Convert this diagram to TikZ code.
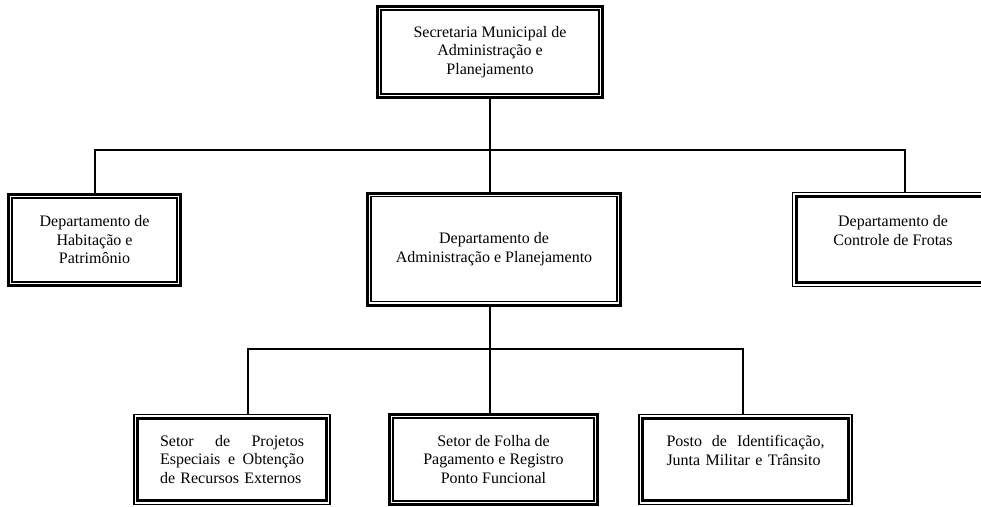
\documentclass[tikz,border=0pt]{standalone}
\usepackage{fontspec}
\setmainfont{Liberation Serif}
\begin{document}
\begin{tikzpicture}[x=1pt,y=-1pt,
    every node/.style={font=\fontsize{16}{18.5}\selectfont},
    caixa/.style={draw, inner sep=0pt, align=center},
    grossa/.style={caixa, line width=3pt},
    fina/.style={caixa, line width=1.3pt},
    ligacao/.style={line width=1.4pt}]
    \useasboundingbox (0,0) rectangle (981,506);
    \node[grossa, minimum width=225, minimum height=91] (sec) at (490,52) {Secretaria Municipal de\\Administração e\\Planejamento};
    \node[grossa, minimum width=172, minimum height=91] (habit) at (94.5,240) {Departamento de\\Habitação e\\Patrimônio};
    \node[grossa, minimum width=253, minimum height=112] (adm) at (494,249) {Departamento de\\Administração e Planejamento};
    \node[fina, minimum width=201, minimum height=94] (frotas) at (893,239.5) {Departamento de\\Controle de Frotas\\\mbox{}};
    \node[fina, minimum width=196, minimum height=90, text width=144, align=left] (projetos) at (232,459.5) {\hyphenpenalty=10000 Setor \hfill de \hfill Projetos\\Especiais \hfill e \hfill Obtenção\\de Recursos Externos};
    \node[grossa, minimum width=208, minimum height=90] (folha) at (493.5,459.5) {Setor de Folha de\\Pagamento e Registro\\Ponto Funcional};
    \node[fina, minimum width=213, minimum height=90, text width=158, align=left] (posto) at (745.5,459.5) {Posto \hfill de \hfill Identificação,\\Junta Militar e Trânsito\\\mbox{}};
    % traço interno das molduras
    \foreach \n in {sec,habit,adm,folha}
        \draw[line width=1.2pt] ([shift={(5,5)}]\n.north west) rectangle ([shift={(-5,-5)}]\n.south east);
    \foreach \n in {frotas,projetos,posto}
        \draw[line width=3pt] ([shift={(4.5,4.5)}]\n.north west) rectangle ([shift={(-4.5,-4.5)}]\n.south east);
    % ligacoes
    \coordinate (ha) at (95,150);
    \coordinate (fr) at (905,150);
    \coordinate (pr) at (248,349);
    \coordinate (po) at (743,349);
    \draw[ligacao] (ha |- habit.north) -- (ha) -- (fr) -- (fr |- frotas.north);
    \draw[ligacao] (sec.south) -- (sec.south |- adm.north);
    \draw[ligacao] (pr |- projetos.north) -- (pr) -- (po) -- (po |- posto.north);
    \draw[ligacao] (sec.south |- adm.south) -- (sec.south |- folha.north);
\end{tikzpicture}
\end{document}
